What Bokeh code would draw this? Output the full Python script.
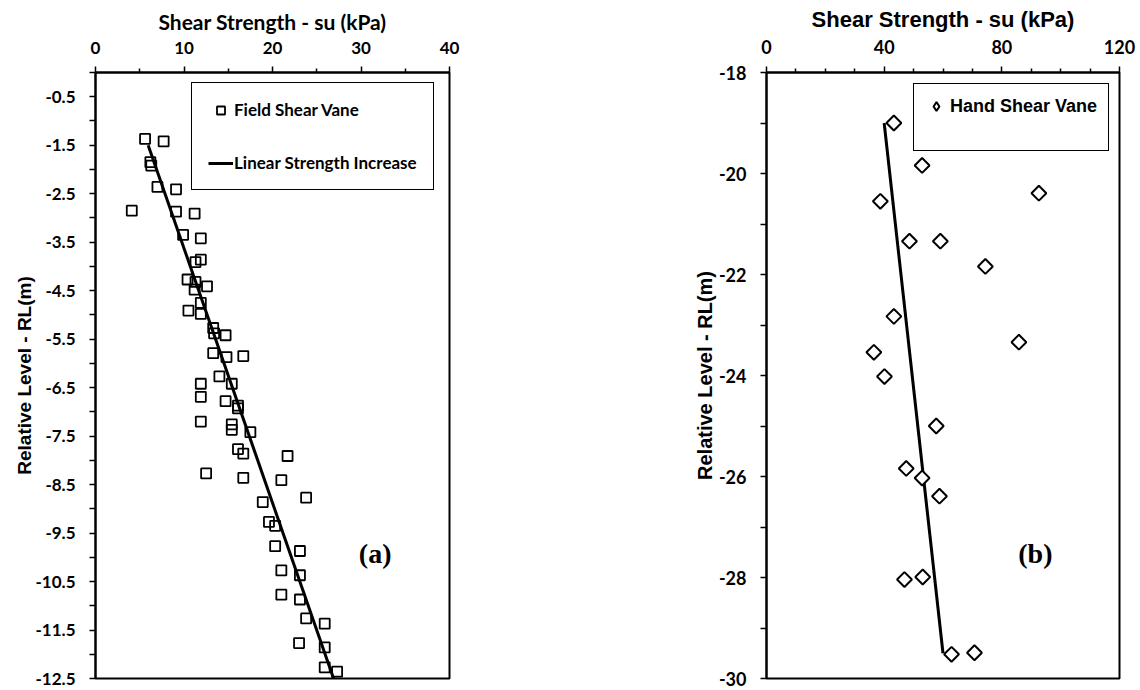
from bokeh.plotting import figure
from bokeh.layouts import row
from bokeh.models import Range1d, FixedTicker, Legend, LegendItem, Label, CustomJSTickFormatter
from bokeh.embed import file_html
from bokeh.resources import INLINE

# ---------------- data: panel (a) field shear vane ----------------
field_su = [5.6, 7.7, 6.2, 6.3, 7.0, 9.1, 4.1, 9.1, 11.2, 9.9, 11.9, 11.3, 11.9,
            10.4, 11.3, 11.2, 12.6, 11.9, 10.5, 11.9, 13.3, 13.4, 14.7, 13.3,
            14.8, 16.7, 14.0, 15.4, 11.9, 11.9, 14.7, 16.1, 16.1, 11.9, 15.4,
            15.4, 17.5, 16.1, 16.7, 21.7, 12.5, 16.7, 21.0, 23.8, 18.9, 19.6,
            20.3, 20.3, 23.1, 21.0, 23.1, 21.0, 23.1, 23.8, 25.9, 23.0, 25.9,
            25.9, 27.3]
field_rl = [-1.37, -1.42, -1.85, -1.92, -2.36, -2.41, -2.85, -2.87, -2.91, -3.35,
            -3.42, -3.91, -3.86, -4.27, -4.32, -4.48, -4.41, -4.75, -4.91, -4.98,
            -5.27, -5.38, -5.42, -5.79, -5.87, -5.85, -6.27, -6.42, -6.42, -6.69,
            -6.78, -6.87, -6.93, -7.20, -7.26, -7.37, -7.42, -7.77, -7.86, -7.91,
            -8.27, -8.36, -8.41, -8.77, -8.86, -9.27, -9.35, -9.77, -9.87, -10.27,
            -10.37, -10.77, -10.87, -11.26, -11.37, -11.77, -11.86, -12.27, -12.36]
trend_a_su = [5.95, 26.9]
trend_a_rl = [-1.5, -12.5]

# ---------------- data: panel (b) hand shear vane ----------------
hand_su = [43.3, 52.9, 92.6, 38.7, 48.6, 59.1, 74.4, 43.3, 85.8, 36.5, 40.1,
           57.7, 47.5, 52.9, 58.8, 46.9, 53.1, 62.9, 70.7]
hand_rl = [-19.00, -19.84, -20.39, -20.55, -21.34, -21.34, -21.84, -22.83,
           -23.34, -23.54, -24.02, -25.00, -25.84, -26.03, -26.39, -28.04,
           -27.99, -29.52, -29.49]
trend_b_su = [40.0, 60.0]
trend_b_rl = [-19.0, -29.5]

# ---------------- ticks ----------------
xticks_a = [0, 10, 20, 30, 40]
xminor_a = [5, 15, 25, 35]
yticks_a = [-12.5, -11.5, -10.5, -9.5, -8.5, -7.5, -6.5, -5.5, -4.5, -3.5, -2.5, -1.5, -0.5]
yminor_a = [-12, -11, -10, -9, -8, -7, -6, -5, -4, -3, -2, -1, 0]
xticks_b = [0, 40, 80, 120]
xminor_b = [10, 20, 30, 50, 60, 70, 90, 100, 110]
yticks_b = [-30, -28, -26, -24, -22, -20, -18]
yminor_b = [-29, -27, -25, -23, -21, -19]

XLABEL = "Shear Strength - su (kPa)"
YLABEL = "Relative Level - RL(m)"

CAL = "Lato"
ARIAL = "Liberation Sans"


def style(p, xt, xm, yt, ym, title_font, title_size, ylab_font, ylab_size, tick_size, ylab_standoff):
    p.xgrid.visible = False
    p.ygrid.visible = False
    p.outline_line_color = "black"
    p.outline_line_width = 2
    p.outline_line_alpha = 1
    p.background_fill_color = "white"
    p.border_fill_color = "white"
    xa = p.xaxis[0]
    ya = p.yaxis[0]
    xa.ticker = FixedTicker(ticks=xt, minor_ticks=xm)
    ya.ticker = FixedTicker(ticks=yt, minor_ticks=ym)
    for a in (xa, ya):
        a.formatter = CustomJSTickFormatter(code="return tick.toString()")
        a.axis_line_color = "black"
        a.axis_line_width = 2
        a.major_tick_line_color = "black"
        a.minor_tick_line_color = "black"
        a.major_tick_line_width = 1.5
        a.minor_tick_line_width = 1.5
        a.major_tick_in = 0
        a.minor_tick_in = 0
        a.major_label_text_font = CAL
        a.major_label_text_font_style = "bold"
        a.major_label_text_font_size = tick_size
        a.major_label_text_color = "black"
        a.axis_label_text_font_style = "bold"
        a.axis_label_text_color = "black"
    xa.major_tick_out = 6
    xa.minor_tick_out = 4
    ya.major_tick_out = 6
    ya.minor_tick_out = 6
    xa.axis_label = XLABEL
    xa.axis_label_text_font = title_font
    xa.axis_label_text_font_size = title_size
    xa.major_label_standoff = 13
    xa.axis_label_standoff = 5
    ya.axis_label = YLABEL
    ya.axis_label_text_font = ylab_font
    ya.axis_label_text_font_size = ylab_size
    ya.major_label_standoff = 14
    ya.axis_label_standoff = ylab_standoff


# ---------------- panel (a) ----------------
p1 = figure(width=670, height=690, x_range=Range1d(0, 40), y_range=Range1d(-12.5, 0),
            x_axis_location="above", output_backend="svg", toolbar_location=None,
            min_border_left=95, min_border_right=221, min_border_top=72, min_border_bottom=12)
style(p1, xticks_a, xminor_a, yticks_a, yminor_a, CAL, "21px", ARIAL, "19px", "17px", -2)

r_sq = p1.scatter(field_su, field_rl, marker="square", size=10, fill_alpha=0,
                  line_color="black", line_width=1.8)
r_ln = p1.line(trend_a_su, trend_a_rl, line_color="black", line_width=3)

leg1 = Legend(items=[LegendItem(label="Field Shear Vane", renderers=[r_sq]),
                     LegendItem(label="Linear Strength Increase", renderers=[r_ln])],
              location=(96, 488), padding=16, spacing=32, glyph_width=25, glyph_height=20,
              label_height=20, label_standoff=1, margin=0,
              border_line_color="black", border_line_width=1.5, border_line_alpha=1,
              label_text_font=CAL, label_text_font_style="bold", label_text_font_size="17px",
              label_text_color="black",
              background_fill_color="white", background_fill_alpha=1)
p1.add_layout(leg1)
p1.add_layout(Label(x=31.6, y=-9.92, text="(a)", text_font="Liberation Serif",
                    text_font_style="bold", text_font_size="28px", text_color="black",
                    text_align="center", text_baseline="middle"))

# ---------------- panel (b) ----------------
p2 = figure(width=469, height=690, x_range=Range1d(0, 120), y_range=Range1d(-30, -18),
            x_axis_location="above", output_backend="svg", toolbar_location=None,
            min_border_left=96, min_border_right=20, min_border_top=72, min_border_bottom=12)
style(p2, xticks_b, xminor_b, yticks_b, yminor_b, ARIAL, "22px", ARIAL, "20px", "18px", 0)

p2.line(trend_b_su, trend_b_rl, line_color="black", line_width=3)
p2.scatter(hand_su, hand_rl, marker="square", angle=45, angle_units="deg", size=10.5,
           fill_color="white", fill_alpha=1, line_color="black", line_width=2)
# legend key (diamond) – same series, not drawn in the plot area
r_key = p2.scatter(hand_su, hand_rl, marker="diamond", size=12, fill_color="white",
                   line_color="black", line_width=2, visible=False)
r_blank = p2.line(x=[], y=[], line_alpha=0)

leg2 = Legend(items=[LegendItem(label="Hand Shear Vane", renderers=[r_key]),
                     LegendItem(label=" ", renderers=[r_blank])],
              location=(147, 527), padding=11, spacing=0, glyph_width=22, glyph_height=22,
              label_height=20, label_standoff=3, margin=0,
              border_line_color="black", border_line_width=1.5, border_line_alpha=1,
              label_text_font=ARIAL, label_text_font_style="bold", label_text_font_size="18px",
              label_text_color="black",
              background_fill_color="white", background_fill_alpha=1)
p2.add_layout(leg2)
p2.add_layout(Label(x=91.4, y=-27.52, text="(b)", text_font="Liberation Serif",
                    text_font_style="bold", text_font_size="28px", text_color="black",
                    text_align="center", text_baseline="middle"))

layout = row(p1, p2)
open("out.html", "w").write(file_html(layout, INLINE))
